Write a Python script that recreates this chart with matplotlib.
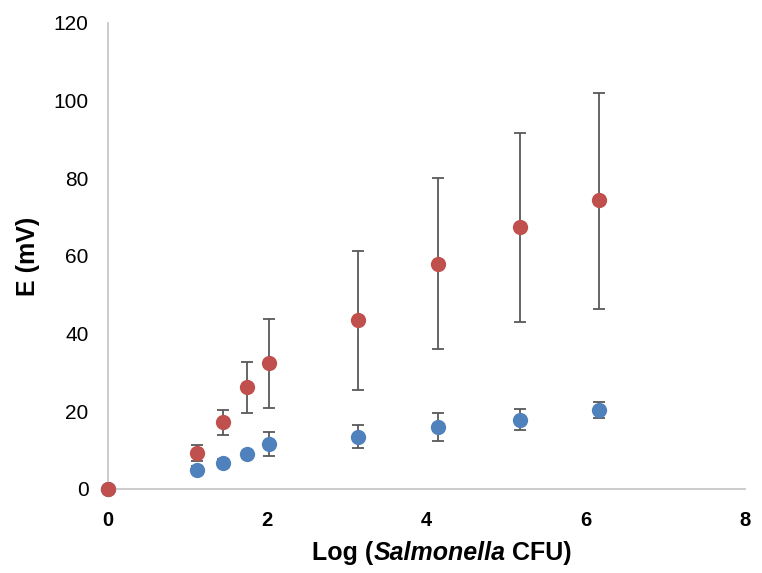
import matplotlib
matplotlib.use("Agg")
import matplotlib.pyplot as plt
from matplotlib.offsetbox import TextArea, HPacker, AnnotationBbox

plt.rcParams['font.family'] = ['Liberation Sans', 'DejaVu Sans']

# Log10 of CFU counts
log_cfu = [0, 1.12, 1.45, 1.75, 2.02, 3.14, 4.15, 5.17, 6.17]

# Potential response (mV) and standard deviations
e_high = [0, 9.2, 17.3, 26.2, 32.4, 43.4, 58.0, 67.4, 74.3]
err_high_up = [0, 2.2, 3.1, 6.6, 11.3, 17.8, 22.2, 24.3, 27.6]
err_high_dn = [0, 2.0, 3.3, 6.7, 11.6, 18.0, 22.0, 24.5, 27.9]

e_low = [0, 4.8, 6.8, 8.9, 11.7, 13.5, 15.9, 17.8, 20.4]
err_low_up = [0, 1.0, 1.0, 1.0, 2.9, 2.9, 3.6, 2.9, 2.1]
err_low_dn = [0, 1.0, 1.0, 1.0, 3.3, 2.9, 3.5, 2.7, 2.0]

x_ticks = [0, 2, 4, 6, 8]
y_ticks = [0, 20, 40, 60, 80, 100, 120]

red = '#C0504D'
blue = '#4F81BD'
bar_color = '#595959'

fig = plt.figure(figsize=(7.62, 5.73), dpi=100)
ax = fig.add_axes([0.1417, 0.1466, 0.8360, 0.8133])

for y, lo, hi, col, z in [(e_low, err_low_dn, err_low_up, blue, 2),
                          (e_high, err_high_dn, err_high_up, red, 4)]:
    ax.errorbar(log_cfu, y, yerr=[lo, hi], fmt='none', ecolor=bar_color,
                elinewidth=1.3, capsize=4.5, capthick=1.3, zorder=z)
    ax.plot(log_cfu, y, 'o', color=col, markersize=11, markeredgewidth=0,
            zorder=z + 0.5, clip_on=False)

ax.set_xlim(0, 8)
ax.set_ylim(0, 120)
ax.set_xticks(x_ticks)
ax.set_yticks(y_ticks)
ax.tick_params(length=0)
ax.tick_params(axis='y', labelsize=15, pad=14)
ax.tick_params(axis='x', labelsize=14.5, pad=16)
for lbl in ax.get_xticklabels():
    lbl.set_fontweight('bold')

for side in ['top', 'right']:
    ax.spines[side].set_visible(False)
for side in ['left', 'bottom']:
    ax.spines[side].set_color('#C8C8C8')
    ax.spines[side].set_linewidth(1.3)

ax.set_ylabel('E (mV)', fontsize=18, fontweight='bold', labelpad=10)

# x-axis title with the genus name in italics
props = dict(fontsize=18, fontweight='bold', color='black')
parts = HPacker(children=[
    TextArea('Log (', textprops=props),
    TextArea('Salmonella', textprops=dict(props, fontstyle='italic')),
    TextArea(' CFU)', textprops=props),
], align='baseline', pad=0, sep=0)
ab = AnnotationBbox(parts, (442 / 762, 1 - 553 / 573), xycoords='figure fraction',
                    box_alignment=(0.5, 0.5), frameon=False)
fig.add_artist(ab)

fig.savefig('out.png', dpi=100)
